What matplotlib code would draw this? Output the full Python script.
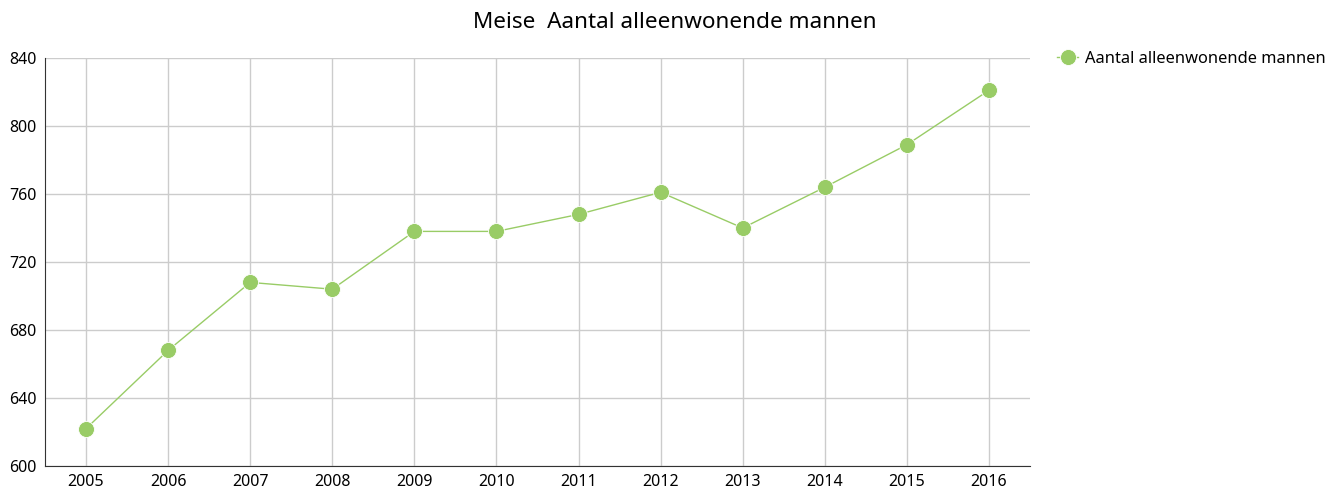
import matplotlib
matplotlib.use("Agg")
import matplotlib.pyplot as plt

years = ["2005", "2006", "2007", "2008", "2009", "2010",
         "2011", "2012", "2013", "2014", "2015", "2016"]
mannen = [622, 668, 708, 704, 738, 738, 748, 761, 740, 764, 789, 821]
y_ticks = [600, 640, 680, 720, 760, 800, 840]

plt.rcParams['font.family'] = ['Noto Sans', 'DejaVu Sans']
green = "#99cc66"

fig = plt.figure(figsize=(13.36, 4.97), dpi=100)
ax = fig.add_axes([45 / 1336, 1 - 466 / 497, (1030 - 45) / 1336, (466 - 58) / 497])

x = list(range(len(years)))
ax.plot(x, mannen, color=green, lw=1, marker="o", markersize=11.5,
        markeredgecolor="white", markeredgewidth=0.6,
        label="Aantal alleenwonende mannen", zorder=3)

ax.set_xlim(-0.5, len(years) - 0.5)
ax.set_ylim(600, 840)
ax.set_xticks(x)
ax.set_xticklabels(years)
ax.set_yticks(y_ticks)
ax.tick_params(length=0, labelsize=11.5, pad=6)
ax.grid(True, color="#cccccc", lw=1)
ax.set_axisbelow(True)

for s in ["top", "right"]:
    ax.spines[s].set_visible(False)
ax.spines["left"].set_color("#333333")
ax.spines["bottom"].set_color("#333333")

fig.text(675 / 1336, 1 - 23 / 497, "Meise  Aantal alleenwonende mannen",
         ha="center", va="center", fontsize=16.2)

fig.legend(loc="upper left", bbox_to_anchor=(1057 / 1336, 1 - 51 / 497),
           frameon=False, fontsize=11.8, handlelength=1.3, handletextpad=0.4,
           borderaxespad=0, borderpad=0)

fig.savefig("out.png", dpi=100)
